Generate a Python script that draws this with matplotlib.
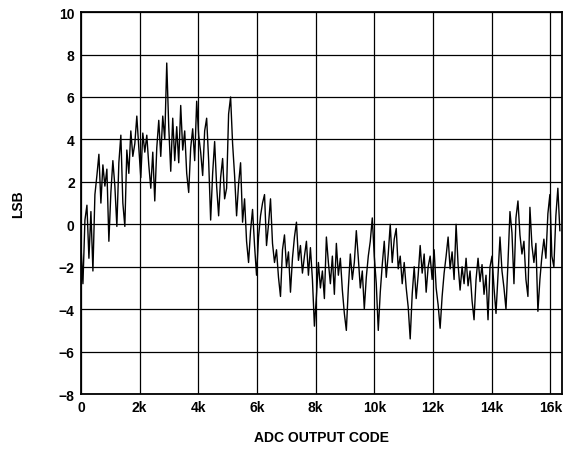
"""
INL vs ADC output code, redrawn from a datasheet plot.

Saves out.png (570x452).
"""

import numpy as np
import matplotlib
matplotlib.use("Agg")
import matplotlib.pyplot as plt

plt.rcParams["font.family"] = ["Liberation Sans", "DejaVu Sans"]
plt.rcParams["font.weight"] = "bold"

# INL (LSB), one value every ~68 codes
inlValues = [
    -1.0, -2.8, 0.2, 0.9, -1.6, 0.6, -2.2, 1.4, 2.3, 3.3,
    1.0, 2.8, 1.8, 2.6, -0.8, 1.5, 3.0, 1.8, -0.1, 2.9,
    4.2, 1.0, -0.1, 3.5, 2.4, 4.4, 3.2, 3.8, 5.1, 3.6,
    2.2, 4.3, 3.4, 4.2, 2.8, 1.7, 3.4, 1.1, 3.6, 4.9,
    3.2, 5.1, 4.0, 7.6, 4.6, 2.5, 5.0, 3.0, 4.6, 2.9,
    5.6, 3.5, 4.4, 2.4, 1.5, 3.6, 4.5, 3.0, 5.8, 4.2,
    3.4, 2.3, 4.4, 5.0, 3.0, 0.2, 2.4, 3.9, 1.8, 0.4,
    2.2, 3.1, 1.2, 1.7, 5.2, 6.0, 3.8, 2.3, 0.4, 1.9,
    2.9, 0.1, 1.2, -0.8, -1.8, -0.3, 0.7, -1.0, -2.4, -0.6,
    0.4, 1.0, 1.4, -1.0, 0.0, 1.2, -0.9, -1.8, -1.2, -2.5,
    -3.4, -1.2, -0.5, -2.0, -1.3, -3.2, -1.6, -0.6, 0.1, -1.7,
    -1.0, -2.3, -1.5, -0.8, -2.4, -1.1, -2.6, -4.8, -3.4, -1.8,
    -3.0, -2.2, -3.5, -0.6, -1.8, -2.8, -1.5, -3.3, -0.9, -2.4,
    -1.6, -3.1, -4.2, -5.0, -3.0, -1.4, -2.6, -1.8, -0.3, -1.6,
    -3.0, -2.2, -4.0, -2.5, -1.5, -0.8, 0.3, -1.5, -2.8, -5.0,
    -3.2, -1.9, -0.8, -2.5, -1.4, 0.0, -1.8, -0.7, -0.2, -2.1,
    -1.5, -2.8, -1.8, -3.0, -3.9, -5.4, -3.3, -2.0, -3.5, -2.4,
    -1.0, -2.3, -1.4, -3.2, -2.0, -1.5, -2.6, -1.2, -3.0, -3.8,
    -4.9, -3.4, -2.3, -1.5, -0.6, -2.1, -1.3, -2.6, 0.0, -1.9,
    -3.1, -2.0, -2.8, -1.6, -2.9, -2.2, -3.6, -4.5, -2.6, -1.6,
    -2.7, -1.9, -3.3, -2.4, -4.5, -2.0, -1.5, -3.0, -4.2, -2.4,
    -0.6, -2.2, -3.0, -4.0, -1.8, 0.6, -0.4, -2.8, 0.3, 1.1,
    -0.5, -1.4, -0.8, -2.6, -3.4, 0.8, -1.0, -1.8, -0.9, -4.1,
    -2.6, -1.5, -0.7, -1.6, 0.5, 1.4, -1.5, -2.0, 0.4, 1.7,
    -0.3,
]
codeStep = 68
adcCodes = np.arange(len(inlValues)) * codeStep

xTicks = [0, 2000, 4000, 6000, 8000, 10000, 12000, 14000, 16000]
xTickLabels = ["0", "2k", "4k", "6k", "8k", "10k", "12k", "14k", "16k"]
yTicks = [-8, -6, -4, -2, 0, 2, 4, 6, 8, 10]

fig = plt.figure(figsize=(5.70, 4.52), dpi=100)
ax = fig.add_axes([0.142, 0.126, 0.8435, 0.845])

ax.plot(adcCodes, inlValues, color="black", linewidth=1.0)

ax.set_xlim(0, 16384)
ax.set_ylim(-8, 10)
ax.set_xticks(xTicks)
ax.set_xticklabels(xTickLabels)
ax.set_yticks(yTicks)
ax.grid(True, color="black", linewidth=0.9)
ax.set_axisbelow(True)
ax.tick_params(length=0, labelsize=10, pad=4.5)

for spine in ax.spines.values():
    spine.set_linewidth(1.3)

ax.set_xlabel("ADC OUTPUT CODE", fontsize=10, fontweight="bold", labelpad=11)
ax.set_ylabel("LSB", fontsize=10, fontweight="bold", labelpad=24)

fig.savefig("out.png", dpi=100)
plt.close(fig)
